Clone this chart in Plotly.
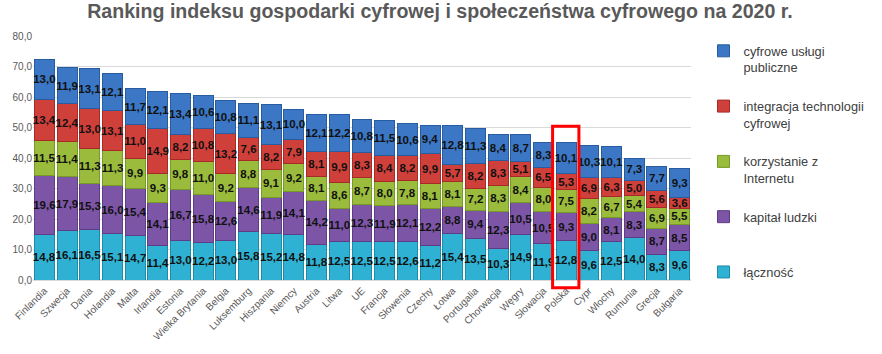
import plotly.graph_objects as go

countries = ["Finlandia", "Szwecja", "Dania", "Holandia", "Malta", "Irlandia", "Estonia",
             "Wielka Brytania", "Belgia", "Luksemburg", "Hiszpania", "Niemcy", "Austria", "Litwa",
             "UE", "Francja", "Słowenia", "Czechy", "Łotwa", "Portugalia", "Chorwacja", "Węgry",
             "Słowacja", "Polska", "Cypr", "Włochy", "Rumunia", "Grecja", "Bułgaria"]

lacznosc = [14.8, 16.1, 16.5, 15.1, 14.7, 11.4, 13.0, 12.2, 13.0, 15.8, 15.2, 14.8, 11.8, 12.5,
            12.5, 12.5, 12.6, 11.2, 15.4, 13.5, 10.3, 14.9, 11.9, 12.8, 9.6, 12.5, 14.0, 8.3, 9.6]
kapital = [19.6, 17.9, 15.3, 16.0, 15.4, 14.1, 16.7, 15.8, 12.6, 14.6, 11.9, 14.1, 14.2, 11.0,
           12.3, 11.9, 12.1, 12.2, 8.8, 9.4, 12.3, 10.5, 10.5, 9.3, 9.0, 8.1, 8.3, 8.7, 8.5]
internet = [11.5, 11.4, 11.3, 11.3, 9.9, 9.3, 9.8, 11.0, 9.2, 8.8, 9.1, 9.2, 8.1, 8.6,
            8.7, 8.0, 7.8, 8.1, 8.1, 7.2, 8.3, 8.4, 8.0, 7.5, 8.2, 6.7, 5.4, 6.9, 5.5]
integracja = [13.4, 12.4, 13.0, 13.1, 11.0, 14.9, 8.2, 10.8, 13.2, 7.6, 8.2, 7.9, 8.1, 9.9,
              8.3, 8.4, 8.2, 9.9, 5.7, 8.2, 8.3, 5.1, 6.5, 5.3, 6.9, 6.3, 5.0, 5.6, 3.6]
uslugi = [13.0, 11.9, 13.1, 12.1, 11.7, 12.1, 13.4, 10.6, 10.8, 11.1, 13.1, 10.0, 12.1, 12.2,
          10.8, 11.5, 10.6, 9.4, 12.8, 11.3, 8.4, 8.7, 8.3, 10.1, 10.3, 10.1, 7.3, 7.7, 9.3]

series = [
    ("łączność<br>&nbsp;", lacznosc, "#2FB1D3", "#1E8BA8"),
    ("kapitał ludzki<br>&nbsp;", kapital, "#7C55A6", "#5E3D85"),
    ("korzystanie z<br>Internetu", internet, "#9ABB3B", "#769A26"),
    ("integracja technologii<br>cyfrowej", integracja, "#D0403B", "#A62B27"),
    ("cyfrowe usługi<br>publiczne", uslugi, "#3B77C4", "#295C9F"),
]

fig = go.Figure()
for i, (name, vals, col, edge) in enumerate(series):
    fig.add_trace(go.Bar(
        x=countries, y=vals, name=name, legendgroup=str(i), legendrank=10 - i,
        marker=dict(color=col, line=dict(color=edge, width=1)),
        texttemplate="%{y:.1f}", textposition="inside", insidetextanchor="middle",
        textangle=0, constraintext="none",
        textfont=dict(family="Liberation Sans", size=11.5, color="#111111", weight="bold"),
    ))

fig.add_shape(type="rect", xref="x", yref="paper",
              x0=23 - 0.6, x1=23 + 0.56, y0=-0.032, y1=0.63,
              line=dict(color="#FF0000", width=3), fillcolor="rgba(0,0,0,0)", layer="above")

fig.update_layout(
    width=882, height=354,
    barmode="stack", bargap=0.12,
    separators=", ",
    paper_bgcolor="white", plot_bgcolor="white",
    margin=dict(l=33, r=160, t=36, b=64),
    title=dict(text="Ranking indeksu gospodarki cyfrowej i społeczeństwa cyfrowego na 2020 r.",
               x=440 / 882, xanchor="center", y=1 - 11 / 354, yanchor="middle",
               font=dict(family="Liberation Sans", size=19.6, color="#595959", weight="bold")),
    font=dict(family="Liberation Sans", color="#595959"),
    uniformtext=dict(minsize=10, mode="show"),
    legend=dict(x=1.019, xanchor="left", xref="paper", y=1.0, yanchor="top",
                traceorder="grouped", tracegroupgap=19, valign="top", maxheight=350,
                font=dict(family="Liberation Sans", size=12.8, color="#404040"),
                itemwidth=30, bgcolor="rgba(0,0,0,0)"),
    xaxis=dict(tickangle=-45, tickfont=dict(size=10, color="#595959"),
               showline=True, linecolor="#D9D9D9", ticks=""),
    yaxis=dict(range=[0, 80], dtick=10, tickformat=".1f", showgrid=True, gridcolor="#D9D9D9",
               zeroline=True, zerolinecolor="#D9D9D9",
               tickfont=dict(size=10, color="#595959")),
)

fig.write_html("out.html")
